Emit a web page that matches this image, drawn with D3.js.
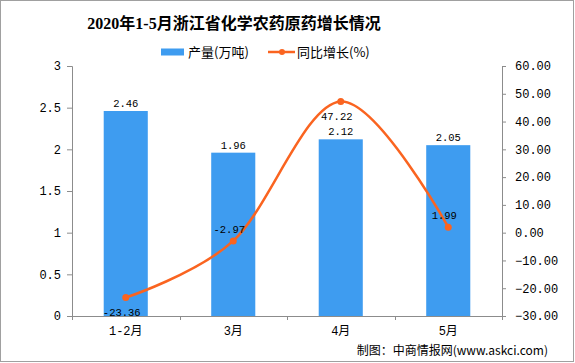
<!DOCTYPE html>
<html>
<head>
<meta charset="utf-8">
<script src="https://cdn.jsdelivr.net/npm/d3@7"></script>
<style>
  body { margin: 0; background: #fff; }
  svg { display: block; }
  .axis path, .axis line { stroke: #8c8c8c; }
  .axis text { font-family: "Liberation Mono", "Noto Sans CJK SC", monospace; font-size: 12px; fill: #000; }
</style>
</head>
<body>
<div id="chart"></div>
<script>
var categories = ['1-2月', '3月', '4月', '5月'];
var output = [2.46, 1.96, 2.12, 2.05];
var growth = [-23.36, -2.97, 47.22, 1.99];
var leftTicks = [0, 0.5, 1, 1.5, 2, 2.5, 3];
var rightTicks = [-30, -20, -10, 0, 10, 20, 30, 40, 50, 60];
// where the growth label sits relative to its point
var growthLabelPos = ['below', 'above', 'below', 'above'];

var width = 575, height = 363;
var margin = {top: 66, right: 73, bottom: 47, left: 72};
var barColor = '#3e9cf0';
var lineColor = '#fa6420';

var svgRoot = d3.select('#chart')
  .append('svg')
  .attr('width', width)
  .attr('height', height);

// outer frame
svgRoot.append('rect')
  .attr('x', 0.5).attr('y', 0.5)
  .attr('width', width - 2).attr('height', height - 2)
  .attr('fill', '#fff')
  .attr('stroke', '#a0a0a0');

svgRoot.append('text')
  .attr('x', 234).attr('y', 29)
  .attr('text-anchor', 'middle')
  .style('font-family', '"Liberation Serif", "Noto Sans CJK SC", serif')
  .style('font-weight', 'bold')
  .style('font-size', '16px')
  .text('2020年1-5月浙江省化学农药原药增长情况');

var x = d3.scaleBand()
  .domain(categories)
  .range([margin.left, width - margin.right])
  .paddingInner(0.59)
  .paddingOuter(0.295);

var yLeft = d3.scaleLinear()
  .domain([0, 3])
  .range([height - margin.bottom, margin.top]);

var yRight = d3.scaleLinear()
  .domain([-30, 60])
  .range([height - margin.bottom, margin.top]);

var g = svgRoot.append('g');

// bars
g.selectAll('rect.bar')
  .data(output)
  .enter()
  .append('rect')
  .attr('class', 'bar')
  .attr('x', function (d, i) { return x(categories[i]); })
  .attr('y', function (d) { return yLeft(d); })
  .attr('width', x.bandwidth())
  .attr('height', function (d) { return yLeft(0) - yLeft(d); })
  .attr('fill', barColor);

g.selectAll('text.barLabel')
  .data(output)
  .enter()
  .append('text')
  .attr('class', 'barLabel')
  .attr('x', function (d, i) { return x(categories[i]) + x.bandwidth() / 2; })
  .attr('y', function (d) { return yLeft(d) - 4; })
  .attr('text-anchor', 'middle')
  .style('font-family', '"Liberation Mono", monospace')
  .style('font-size', '10.5px')
  .text(function (d) { return d.toFixed(2); });

// axes
var axisLeft = d3.axisLeft(yLeft)
  .tickValues(leftTicks)
  .tickSize(5)
  .tickPadding(6)
  .tickFormat(d3.format('~g'));

svgRoot.append('g')
  .attr('class', 'axis')
  .attr('transform', 'translate(' + margin.left + ',0)')
  .call(axisLeft);

var axisRight = d3.axisRight(yRight)
  .tickValues(rightTicks)
  .tickSize(4)
  .tickPadding(9)
  .tickFormat(d3.format('.2f'));

svgRoot.append('g')
  .attr('class', 'axis')
  .attr('transform', 'translate(' + (width - margin.right) + ',0)')
  .call(axisRight);

var axisBottom = d3.axisBottom(x)
  .tickSize(0)
  .tickPadding(10);

var xAxisG = svgRoot.append('g')
  .attr('class', 'axis')
  .attr('transform', 'translate(0,' + yLeft(0) + ')')
  .call(axisBottom);

xAxisG.select('.domain').attr('d', 'M' + margin.left + ',0.5H' + (width - margin.right));

// ticks between categories
var bounds = categories.map(function (c) { return x(c) - x.step() * x.paddingOuter(); });
bounds.push(width - margin.right);
xAxisG.selectAll('line.sep')
  .data(bounds)
  .enter()
  .append('line')
  .attr('class', 'sep')
  .attr('x1', function (d) { return Math.round(d) + 0.5; })
  .attr('x2', function (d) { return Math.round(d) + 0.5; })
  .attr('y1', 0)
  .attr('y2', 4);

// growth line
var pts = growth.map(function (d, i) {
  return [x(categories[i]) + x.bandwidth() / 2, yRight(d)];
});

var line = d3.line().curve(d3.curveCardinal.tension(0));

g.append('path')
  .attr('d', line(pts))
  .attr('fill', 'none')
  .attr('stroke', lineColor)
  .attr('stroke-width', 2.5);

g.selectAll('circle.pt')
  .data(pts)
  .enter()
  .append('circle')
  .attr('class', 'pt')
  .attr('cx', function (d) { return d[0]; })
  .attr('cy', function (d) { return d[1]; })
  .attr('r', 3.5)
  .attr('fill', lineColor);

g.selectAll('text.lineLabel')
  .data(growth)
  .enter()
  .append('text')
  .attr('class', 'lineLabel')
  .attr('x', function (d, i) { return pts[i][0] - 4; })
  .attr('y', function (d, i) {
    return growthLabelPos[i] === 'below' ? pts[i][1] + 18 : pts[i][1] - 8;
  })
  .attr('text-anchor', 'middle')
  .style('font-family', '"Liberation Mono", monospace')
  .style('font-size', '10.5px')
  .text(function (d) { return d.toFixed(2); });

// legend
var legend = svgRoot.append('g').attr('transform', 'translate(0,52)');
legend.append('rect')
  .attr('x', 161).attr('y', -3.5)
  .attr('width', 23).attr('height', 7)
  .attr('fill', barColor);
legend.append('text')
  .attr('x', 188).attr('y', 5)
  .style('font-family', '"Noto Sans CJK SC", sans-serif')
  .style('font-size', '13px')
  .text('产量(万吨)');
legend.append('line')
  .attr('x1', 268).attr('x2', 295)
  .attr('y1', 0).attr('y2', 0)
  .attr('stroke', lineColor)
  .attr('stroke-width', 2.5);
legend.append('circle')
  .attr('cx', 282).attr('cy', 0).attr('r', 3)
  .attr('fill', lineColor);
legend.append('text')
  .attr('x', 297).attr('y', 5)
  .style('font-family', '"Noto Sans CJK SC", sans-serif')
  .style('font-size', '13px')
  .text('同比增长(%)');

svgRoot.append('text')
  .attr('x', 548).attr('y', 355)
  .attr('text-anchor', 'end')
  .style('font-family', '"Noto Sans CJK SC", sans-serif')
  .style('font-size', '12px')
  .text('制图：中商情报网(www.askci.com)');
</script>
</body>
</html>
